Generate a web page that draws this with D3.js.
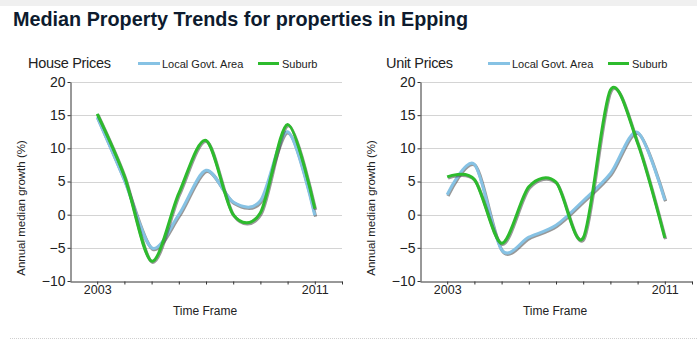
<!DOCTYPE html>
<html><head><meta charset="utf-8">
<script src="https://cdn.jsdelivr.net/npm/d3@7"></script>
<style>
body{margin:0;background:#fff;}
svg{display:block;font-family:"Liberation Sans",Arial,sans-serif;}
</style></head>
<body><svg id="c" width="697" height="358"></svg>
<script>
const years = [2003,2004,2005,2006,2007,2008,2009,2010,2011];
const houseLGA    = [14.7, 5.2, -5.0, 0.0, 6.7, 1.9, 2.1, 12.5, -0.1];
const houseSuburb = [15.2, 5.8, -7.0, 3.2, 11.2, 0.0, 0.3, 13.6, 0.9];
const unitLGA     = [3.0, 7.6, -5.3, -3.4, -1.6, 2.1, 6.2, 12.4, 2.2];
const unitSuburb  = [5.7, 5.3, -4.3, 4.2, 4.9, -3.5, 18.8, 10.8, -3.5];
const yTicks = [-10,-5,0,5,10,15,20];
const xLabels = [2003, 2011];
const seriesNames = ["Local Govt. Area","Suburb"];
const seriesColors = ["#86c2e4","#2dbb2d"];
const titleText = "Median Property Trends for properties in Epping";

const svg = d3.select("#c");
svg.append("rect").attr("x",0).attr("y",0).attr("width",697).attr("height",6).attr("fill","#f0f0f0");
svg.append("text").attr("x",13).attr("y",26).attr("font-size",19.8).attr("font-weight","bold")
  .attr("fill","#0d1b2e").text(titleText);
svg.append("line").attr("x1",10).attr("x2",697).attr("y1",338.5).attr("y2",338.5)
  .attr("stroke","#cfcfcf").attr("stroke-dasharray","1,1");

function panel(ox, title, titleX, lga, sub){
  const g = svg.append("g").attr("transform",`translate(${ox},0)`);
  const x = d3.scaleLinear().domain([2002,2012]).range([70,342]);
  const y = d3.scaleLinear().domain([-10,20]).range([281,82]);
  g.selectAll(".grid").data(yTicks.filter(d=>d>-10)).join("line")
    .attr("x1",70).attr("x2",342).attr("y1",d=>Math.round(y(d))+0.5).attr("y2",d=>Math.round(y(d))+0.5)
    .attr("stroke","#d4d4d4").attr("stroke-width",1);
  const ya = g.append("g").attr("transform","translate(70.5,0)")
    .call(d3.axisLeft(y).tickValues(yTicks).tickSize(3).tickSizeOuter(0));
  ya.select(".domain").attr("stroke","#333");
  ya.selectAll(".tick line").attr("stroke","#333");
  ya.selectAll("text").attr("font-size",14).attr("fill","#222").attr("dx",1)
    .attr("font-family","'Liberation Sans',Arial,sans-serif");
  const xa = g.append("g").attr("transform","translate(0,281.5)")
    .call(d3.axisBottom(x).tickValues(d3.range(2003,2013)).tickSize(3).tickSizeOuter(0)
      .tickFormat(d=>xLabels.includes(d)?String(d):""));
  xa.select(".domain").attr("stroke","#333");
  xa.selectAll(".tick line").attr("stroke","#333");
  xa.selectAll("text").attr("font-size",12.5).attr("fill","#222").attr("dy","0.55em")
    .attr("font-family","'Liberation Sans Narrow','Liberation Sans',Arial,sans-serif");
  g.append("text").attr("transform","translate(25,208) rotate(-90)").attr("text-anchor","middle")
    .attr("font-size",11.5).attr("fill","#222").text("Annual median growth (%)");
  g.append("text").attr("x",205).attr("y",315).attr("text-anchor","middle")
    .attr("font-size",12).attr("fill","#222").text("Time Frame");
  g.append("text").attr("x",titleX).attr("y",68).attr("font-size",14.5).attr("fill","#222")
    .attr("letter-spacing","-0.3").text(title);
  const lg = [{x1:138,x2:160,tx:162},{x1:258,x2:279,tx:282}];
  lg.forEach((l,i)=>{
    g.append("line").attr("x1",l.x1).attr("x2",l.x2).attr("y1",63.5).attr("y2",63.5)
      .attr("stroke",seriesColors[i]).attr("stroke-width",3);
    g.append("text").attr("x",l.tx).attr("y",67.5).attr("font-size",11).attr("fill","#222").text(seriesNames[i]);
  });
  const line = d3.line().x((d,i)=>x(years[i])).y(d=>y(d)).curve(d3.curveCardinal.tension(0.1));
  [lga, sub].forEach((s,i)=>{
    g.append("path").attr("d",line(s)).attr("fill","none").attr("stroke","#444")
      .attr("stroke-opacity",0.55).attr("stroke-width",3.2).attr("transform","translate(0.8,1.2)");
    g.append("path").attr("d",line(s)).attr("fill","none").attr("stroke",seriesColors[i])
      .attr("stroke-width",3);
  });
}
panel(0,"House Prices",28,houseLGA,houseSuburb);
panel(350,"Unit Prices",36,unitLGA,unitSuburb);
</script></body></html>
